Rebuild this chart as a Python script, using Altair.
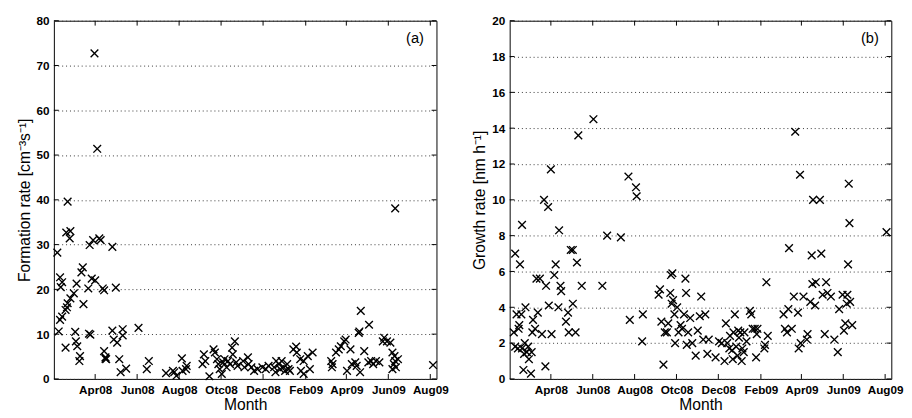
import altair as alt
import pandas as pd

# ---------------- data ----------------
# Panel (a): formation rate
a_dates = [
    "2008-02-06", "2008-02-08", "2008-02-10", "2008-02-13", "2008-02-10", "2008-02-13", "2008-02-11",
    "2008-02-18", "2008-02-18", "2008-02-20", "2008-02-21", "2008-02-25", "2008-03-01", "2008-02-21",
    "2008-02-19", "2008-02-25", "2008-02-24", "2008-03-05", "2008-03-03", "2008-03-04", "2008-03-06",
    "2008-03-10", "2008-03-09", "2008-03-14", "2008-03-12", "2008-03-15", "2008-03-22", "2008-03-23",
    "2008-03-25", "2008-03-24", "2008-03-27", "2008-03-29", "2008-03-31", "2008-04-01", "2008-04-04",
    "2008-04-07", "2008-04-09", "2008-04-12", "2008-04-14", "2008-04-14", "2008-04-16", "2008-04-17",
    "2008-04-16", "2008-04-26", "2008-04-26", "2008-04-28", "2008-05-03", "2008-05-01", "2008-05-11",
    "2008-05-11", "2008-05-06", "2008-05-08", "2008-05-16", "2008-06-03", "2008-06-15", "2008-06-18",
    "2008-07-13", "2008-07-25", "2008-07-28", "2008-07-23", "2008-08-05", "2008-08-06", "2008-08-11",
    "2008-08-12",
    "2008-09-06", "2008-09-08", "2008-09-04", "2008-09-14", "2008-09-20", "2008-09-22", "2008-09-25",
    "2008-09-27", "2008-09-29", "2008-10-02", "2008-10-04", "2008-10-06", "2008-10-09", "2008-10-11",
    "2008-10-14", "2008-10-17", "2008-10-21", "2008-10-18", "2008-10-23", "2008-10-25", "2008-11-02",
    "2008-11-04", "2008-11-09", "2008-11-10", "2008-11-14", "2008-11-18", "2008-11-23", "2008-11-30",
    "2008-12-05", "2008-12-09", "2008-12-17", "2008-12-20", "2008-12-24", "2008-12-26", "2008-12-28",
    "2008-12-31", "2009-01-02", "2009-01-05", "2009-01-07", "2008-12-19", "2009-01-09", "2009-01-14",
    "2009-01-18", "2009-01-19", "2009-01-24", "2009-01-29", "2009-01-25", "2009-01-29", "2009-02-07",
    "2009-02-04", "2009-02-11",
    "2009-03-10", "2009-03-12", "2009-03-11", "2009-03-17", "2009-03-21", "2009-03-24", "2009-03-29",
    "2009-03-31", "2009-04-02", "2009-04-07", "2009-04-09", "2009-04-14", "2009-04-16", "2009-04-19",
    "2009-04-20", "2009-04-22", "2009-04-21", "2009-04-27", "2009-05-04", "2009-05-03", "2009-05-07",
    "2009-05-10", "2009-05-14", "2009-05-19", "2009-05-24", "2009-05-26", "2009-05-30", "2009-06-04",
    "2009-06-07", "2009-06-10", "2009-06-11", "2009-06-09", "2009-06-12", "2009-06-15", "2009-06-07",
    "2009-06-11", "2009-08-05",
]
a_values = [
    28.2, 10.6, 13.2, 13.9, 22.7, 21.6, 20.5,
    7.0, 15.4, 16.0, 16.9, 18.0, 19.1, 39.6,
    32.7, 33.0, 31.4, 21.3, 10.5, 8.4, 7.3,
    5.1, 4.0, 24.9, 23.8, 16.7, 20.2, 10.1,
    9.9, 29.9, 22.4, 31.0, 72.7, 22.0, 51.4,
    31.4, 31.0, 20.2, 19.8, 6.2, 4.8, 4.4,
    4.5, 29.5, 10.8, 8.8, 8.1, 20.4, 11.1,
    9.7, 4.4, 1.5, 2.3, 11.4, 2.2, 4.0,
    1.3, 1.5, 0.7, 1.8, 4.6, 1.8, 2.2,
    2.9,
    5.5, 4.0, 3.3, 0.6, 6.6, 5.9, 4.4,
    3.3, 2.2, 1.1, 3.7, 4.4, 2.6, 4.0,
    3.3, 7.0, 8.4, 5.5, 3.7, 2.9, 4.0,
    2.6, 4.8, 3.3, 2.6, 1.8, 2.2, 2.6,
    2.2, 2.9, 2.6, 4.0, 3.3, 2.2, 4.0,
    2.6, 1.8, 3.3, 2.2, 1.5, 1.8, 6.6,
    7.2, 5.9, 4.4, 4.0, 1.8, 1.1, 2.2,
    5.1, 5.9,
    4.0, 3.3, 2.6, 5.9, 6.6, 7.3, 8.4,
    8.8, 1.8, 6.6, 3.3, 3.7, 2.9, 10.3,
    10.6, 15.2, 1.5, 6.2, 12.1, 3.7, 4.0,
    3.3, 4.0, 3.7, 8.4, 9.2, 8.4, 8.1,
    5.9, 5.1, 4.0, 3.3, 2.6, 4.4, 2.2,
    38.1, 3.1,
]

# Panel (b): growth rate
b_dates = [
    "2008-02-07", "2008-02-09", "2008-02-11", "2008-02-09", "2008-02-13", "2008-02-14", "2008-02-15",
    "2008-02-16", "2008-02-18", "2008-02-19", "2008-02-19", "2008-02-21", "2008-02-22", "2008-02-23",
    "2008-02-24", "2008-02-26", "2008-02-28", "2008-02-29", "2008-03-03", "2008-03-04", "2008-03-05",
    "2008-03-06", "2008-03-09", "2008-03-11", "2008-03-13", "2008-03-16", "2008-03-19", "2008-03-22",
    "2008-03-24", "2008-03-25", "2008-03-28", "2008-03-29", "2008-04-01", "2008-04-02", "2008-04-06",
    "2008-04-08", "2008-04-12", "2008-04-13", "2008-04-15", "2008-04-16", "2008-04-23", "2008-04-26",
    "2008-04-27", "2008-04-30", "2008-05-03", "2008-05-03", "2008-05-07", "2008-05-09", "2008-05-11",
    "2008-05-16", "2008-06-02", "2008-06-15", "2008-06-22", "2008-07-12", "2008-07-23", "2008-07-25",
    "2008-08-03", "2008-08-04", "2008-08-12", "2008-08-13",
    "2008-09-05", "2008-09-07", "2008-09-09", "2008-09-12", "2008-09-14", "2008-09-17", "2008-09-19",
    "2008-09-22", "2008-09-23", "2008-09-25", "2008-09-24", "2008-09-26", "2008-09-28", "2008-09-29",
    "2008-10-02", "2008-10-04", "2008-10-07", "2008-10-09", "2008-10-12", "2008-10-14", "2008-10-15",
    "2008-10-16", "2008-10-18", "2008-10-21", "2008-10-24", "2008-10-29", "2008-11-01", "2008-11-04",
    "2008-11-06", "2008-11-09", "2008-11-12", "2008-11-15", "2008-11-17", "2008-11-27", "2008-12-02",
    "2008-12-06", "2008-12-10", "2008-12-12", "2008-12-14", "2008-12-17", "2008-12-18", "2008-12-21",
    "2008-12-22", "2008-12-23", "2008-12-25", "2008-12-27", "2008-12-29", "2008-12-30", "2008-12-31",
    "2009-01-02", "2009-01-04", "2009-01-05", "2009-01-07", "2009-01-08", "2009-01-11", "2009-01-16",
    "2009-01-18", "2009-01-20", "2009-01-23", "2009-01-25", "2009-01-26", "2009-01-27", "2009-02-06",
    "2009-02-07", "2009-02-09", "2009-02-11",
    "2009-03-06", "2009-03-08", "2009-03-11", "2009-03-13", "2009-03-14", "2009-03-18", "2009-03-21",
    "2009-03-23", "2009-03-27", "2009-03-28", "2009-03-30", "2009-03-31", "2009-04-04", "2009-04-09",
    "2009-04-10", "2009-04-14", "2009-04-16", "2009-04-17", "2009-04-18", "2009-04-21", "2009-04-22",
    "2009-04-28", "2009-04-30", "2009-05-02", "2009-05-05", "2009-05-07", "2009-05-09", "2009-05-14",
    "2009-05-19", "2009-05-24", "2009-05-26", "2009-05-31", "2009-06-02", "2009-06-04", "2009-06-06",
    "2009-06-07", "2009-06-08", "2009-06-09", "2009-06-10", "2009-06-11", "2009-06-14", "2009-08-03",
]
b_values = [
    2.6, 7.0, 3.6, 1.8, 1.7, 2.8, 3.0,
    6.4, 3.6, 8.6, 1.7, 0.5, 1.4, 2.0,
    4.0, 1.5, 1.8, 1.1, 0.3, 1.5, 2.6,
    3.3, 2.8, 5.6, 3.7, 5.6, 2.5, 10.0,
    0.7, 5.2, 9.6, 4.1, 11.7, 2.5, 5.8,
    6.4, 4.0, 8.3, 5.2, 4.9, 3.2, 3.7,
    2.6, 7.2, 7.2, 4.2, 2.6, 6.5, 13.6,
    5.2, 14.5, 5.2, 8.0, 7.9, 11.3, 3.3,
    10.7, 10.2, 2.1, 3.6,
    4.7, 5.0, 3.2, 0.8, 2.6, 2.6, 3.1,
    4.8, 5.8, 5.9, 4.2, 4.4, 3.6, 2.0,
    4.0, 2.6, 3.0, 2.8, 3.6, 5.6, 4.8,
    1.9, 2.6, 3.4, 2.0, 1.3, 2.7, 3.5,
    4.6, 2.2, 3.6, 1.4, 2.2, 1.2, 2.1,
    2.0, 1.0, 3.1, 2.0, 1.7, 2.4, 1.6,
    1.1, 2.6, 3.6, 1.8, 1.3, 2.7, 2.3,
    2.6, 1.0, 1.7, 1.5, 2.6, 2.1, 3.8,
    3.6, 2.8, 2.8, 1.2, 2.5, 2.8, 1.7,
    1.9, 5.4, 2.4,
    3.6, 2.8, 2.6, 3.9, 7.3, 2.8, 4.6,
    13.8, 3.7, 1.7, 11.4, 2.0, 4.6, 2.2,
    2.5, 4.3, 6.9, 5.3, 10.0, 4.1, 5.4,
    10.0, 7.0, 4.7, 2.5, 5.4, 4.8, 4.6,
    2.2, 1.5, 3.9, 4.7, 2.7, 3.1, 4.2,
    4.7, 6.4, 10.9, 8.7, 4.3, 3.0, 8.2,
]

tick_dates = ["2008-04-01", "2008-06-01", "2008-08-01", "2008-10-01", "2008-12-01",
              "2009-02-01", "2009-04-01", "2009-06-01", "2009-08-01"]
tick_labels = ["Apr08", "Jun08", "Aug08", "Otc08", "Dec08", "Feb09", "Apr09", "Jun09", "Aug09"]
x_domain = ["2008-02-01", "2009-08-10"]

a_yticks = [0, 10, 20, 30, 40, 50, 60, 70, 80]
b_yticks = [0, 2, 4, 6, 8, 10, 12, 14, 16, 18, 20]

# ---------------- helpers ----------------
def ms(d):
    return int(pd.Timestamp(d, tz="UTC").value // 10**6)

tick_ms = [ms(d) for d in tick_dates]
domain_ms = [ms(d) for d in x_domain]

label_expr = "".join(
    f"abs(time(datum.value) - {t}) < 43200000 ? '{l}' : " for t, l in zip(tick_ms, tick_labels)
) + "''"

FONT = "Liberation Sans"
XSHAPE = "M-1,-1L1,1M-1,1L1,-1"
TICK = 5


def panel(dates, values, yticks, ytitle, tag, W, H):
    df = pd.DataFrame({"date": dates, "value": values})
    ymax = yticks[-1]
    xscale = alt.Scale(domain=domain_ms, nice=False)
    yscale = alt.Scale(domain=[0, ymax], nice=False)

    xaxis = alt.Axis(values=tick_ms, labelExpr=label_expr, title="Month",
                     grid=False, ticks=False, domain=False,
                     labelFont=FONT, labelFontSize=12, labelFontWeight="bold",
                     labelColor="black", labelPadding=6,
                     titleFont=FONT, titleFontSize=16, titleFontWeight="normal",
                     titleColor="black", titlePadding=1, labelOverlap=False,
                     labelFlush=False)
    yaxis = alt.Axis(values=yticks, tickCount=len(yticks), title=ytitle, grid=True,
                     gridColor="#333333", gridDash=[1, 3], gridWidth=1,
                     ticks=False, domain=False, labelOverlap=False,
                     labelFont=FONT, labelFontSize=12, labelFontWeight="bold",
                     labelColor="black", labelPadding=5,
                     titleFont=FONT, titleFontSize=16, titleFontWeight="normal",
                     titleColor="black", titlePadding=4)

    pts = alt.Chart(df).mark_point(
        shape=XSHAPE, filled=False, color="black", strokeWidth=1.4, size=62, opacity=1
    ).encode(
        x=alt.X("date:T", scale=xscale, axis=xaxis, title="Month"),
        y=alt.Y("value:Q", scale=yscale, axis=yaxis, title=ytitle),
    )

    ydf = pd.DataFrame({"v": yticks})
    xdf = pd.DataFrame({"d": tick_ms})
    ytick_l = alt.Chart(ydf).mark_rule(color="black", strokeWidth=1).encode(
        y=alt.Y("v:Q", scale=yscale, axis=yaxis, title=ytitle), x=alt.value(0), x2=alt.value(TICK))
    ytick_r = alt.Chart(ydf).mark_rule(color="black", strokeWidth=1).encode(
        y=alt.Y("v:Q", scale=yscale, axis=yaxis, title=ytitle), x=alt.value(W - TICK), x2=alt.value(W))
    xtick_b = alt.Chart(xdf).mark_rule(color="black", strokeWidth=1).encode(
        x=alt.X("d:T", scale=xscale, axis=xaxis, title="Month"), y=alt.value(H - TICK), y2=alt.value(H))
    xtick_t = alt.Chart(xdf).mark_rule(color="black", strokeWidth=1).encode(
        x=alt.X("d:T", scale=xscale, axis=xaxis, title="Month"), y=alt.value(0), y2=alt.value(TICK))

    label = alt.Chart(pd.DataFrame({"t": [tag]})).mark_text(
        font=FONT, fontSize=15, color="black", align="center", baseline="middle"
    ).encode(text="t:N", x=alt.value(W - 22), y=alt.value(18))

    return alt.layer(pts, ytick_l, ytick_r, xtick_b, xtick_t, label).properties(width=W, height=H)


left = panel(a_dates, a_values, a_yticks, "Formation rate [cm⁻³s⁻¹]", "(a)", 392, 367)
right = panel(b_dates, b_values, b_yticks, "Growth rate [nm h⁻¹]", "(b)", 391, 367)

chart = alt.hconcat(left, right, spacing=23).properties(
    padding={"left": 8, "top": 1, "right": 0, "bottom": 0},
    background="white",
).configure_view(stroke="black", strokeWidth=1).configure_concat(spacing=23)

chart.save("out.html", embed_options={"renderer": "svg", "actions": False})
